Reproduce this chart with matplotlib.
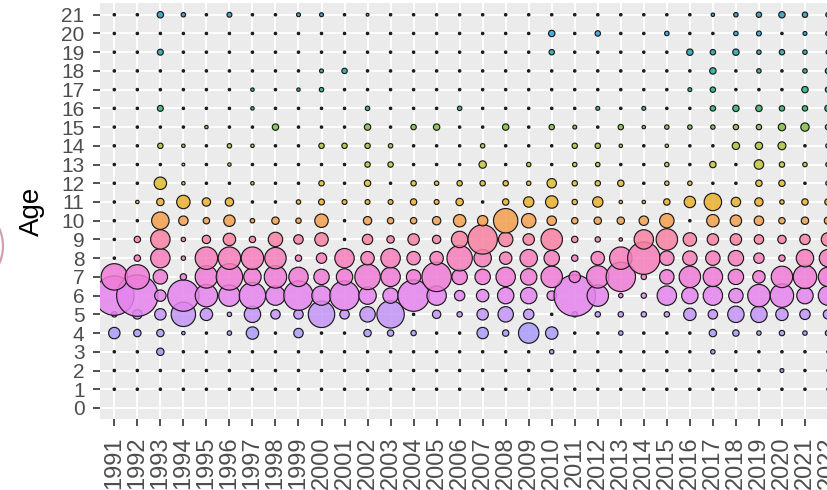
"""
Bubble chart: catch proportion at age by year
"""

import numpy as np
import matplotlib
matplotlib.use("Agg")
import matplotlib.pyplot as plt
from matplotlib.patches import Circle
from matplotlib.colors import to_rgba

plt.rcParams["font.family"] = ["Liberation Sans", "DejaVu Sans"]

years = list(range(1991, 2023))
ages = list(range(0, 22))

# proportion at age (%), one list per age, 1991 -> 2022
age_1 = [0, 0, 0, 0, 0, 0, 0, 0, 0, 0, 0, 0, 0, 0, 0, 0,
         0, 0, 0, 0, 0, 0, 0, 0, 0, 0, 0, 0, 0, 0, 0, 0]
age_2 = [0, 0, 0, 0, 0, 0, 0, 0, 0, 0, 0, 0, 0, 0, 0, 0,
         0, 0, 0, 0, 0, 0, 0, 0, 0, 0, 0, 0, 0, 0.13, 0, 0]
age_3 = [0, 0, 1.4, 0, 0, 0, 0, 0, 0, 0, 0, 0, 0, 0, 0, 0,
         0, 0, 0, 0.23, 0, 0, 0, 0, 0, 0, 0.23, 0, 0, 0, 0, 0]
age_4 = [4.6, 1.4, 1.4, 0.06, 0, 0.23, 5.7, 0, 2.8, 0, 0, 1.4, 0.9, 0.5, 0, 0,
         4.6, 0.9, 18.4, 5.7, 0, 0, 0.23, 0, 0, 0, 1.4, 0.9, 0.23, 0.5, 0.23, 0.5]
age_5 = [0.5, 2.8, 4.6, 27.4, 5.7, 0.23, 11.1, 2.8, 2.8, 32.7, 2.8, 9.6, 35.4, 0, 2.0, 0.5,
         4.6, 9.6, 3.6, 0, 0.5, 0.5, 0.5, 0.5, 0.5, 5.7, 2.8, 11.1, 11.1, 5.7, 3.6, 2.8]
age_6 = [77.6, 86.2, 4.6, 47.7, 22.7, 20.5, 32.7, 16.4, 41.3, 16.4, 41.3, 12.8, 9.6, 47.7, 16.4, 3.6,
         5.7, 11.1, 11.1, 2.8, 86.2, 20.5, 0.23, 0.5, 16.4, 11.1, 16.4, 8.2, 22.7, 25, 11.1, 16.4]
age_7 = [32.7, 27.4, 8.2, 0.9, 22.7, 32.7, 12.8, 22.7, 16.4, 9.6, 11.1, 30, 16.4, 8.2, 41.3, 9.6,
         9.6, 16.4, 11.1, 20.5, 4.6, 22.7, 41.3, 0.5, 8.2, 20.5, 16.4, 9.6, 5.7, 20.5, 25, 16.4]
age_8 = [0, 0.9, 16.4, 0.23, 22.7, 22.7, 22.7, 20.5, 0.9, 3.6, 16.4, 6.9, 16.4, 6.9, 6.9, 30,
         12.8, 5.7, 12.8, 9.6, 0.9, 6.9, 22.7, 51, 8.2, 8.2, 8.2, 9.6, 3.6, 0.9, 12.8, 12.8]
age_9 = [0, 0.9, 16.4, 0.23, 2.0, 5.7, 0.9, 8.2, 2.8, 6.9, 0, 3.6, 1.4, 4.6, 2.0, 11.1,
         41.3, 8.2, 4.6, 20.5, 0.9, 0.5, 0.06, 16.4, 20.5, 6.9, 4.6, 4.6, 2.8, 2.0, 3.6, 6.9]
age_10 = [0, 0, 12.8, 2.8, 0.9, 4.6, 0.23, 1.4, 0.5, 6.9, 0, 2.0, 0.9, 0.9, 2.0, 5.7,
          3.6, 27.4, 8.2, 2.8, 0.9, 1.4, 1.4, 2.8, 8.2, 0, 5.7, 4.6, 2.8, 0.9, 1.4, 1.4]
age_11 = [0, 0.06, 1.4, 6.9, 2.0, 2.0, 0, 0, 0.23, 0.7, 0.35, 0.35, 0.35, 0.9, 0.35, 1.4,
          0, 0.9, 3.6, 5.7, 0.5, 3.6, 0.06, 0.06, 0.9, 4.6, 12.8, 2.8, 2.0, 0.23, 0.9, 0.9]
age_12 = [0, 0, 5.7, 0.06, 0, 0, 0.06, 0, 0, 0.5, 0, 0.9, 0, 0.5, 0.23, 0.5,
          0.5, 0.5, 0.23, 2.8, 0.5, 0.5, 0.9, 0, 0.23, 0.23, 0, 0, 0.9, 0.9, 0, 0.23]
age_13 = [0, 0, 0, 0.01, 0, 0.06, 0, 0, 0, 0, 0, 0.5, 0.5, 0, 0, 0,
          1.4, 0, 0.23, 0, 0.23, 0.23, 0, 0, 0.23, 0, 0.9, 0, 2.8, 0.5, 0.23, 0.23]
age_14 = [0, 0, 0.5, 0.06, 0, 0.23, 0.06, 0, 0, 0.5, 0.5, 0.5, 0.23, 0, 0, 0,
          0.23, 0, 0, 0, 0.5, 0.5, 0.06, 0, 0.06, 0, 0, 1.4, 1.4, 1.7, 0, 0.23]
age_15 = [0, 0, 0, 0, 0.06, 0, 0, 0.9, 0, 0, 0, 0.9, 0, 0.5, 0.9, 0,
          0, 0.9, 0, 0.5, 0.13, 0, 0.5, 0.06, 0.23, 0.23, 0.23, 0.5, 0.5, 1.4, 2.0, 0.5]
age_16 = [0, 0, 0.7, 0, 0, 0, 0.06, 0, 0, 0, 0, 0.23, 0, 0, 0, 0.23,
          0, 0, 0, 0, 0, 0.13, 0, 0.13, 0, 0, 0.5, 0.9, 0.9, 0.5, 0.5, 0.9]
age_17 = [0, 0, 0, 0, 0, 0, 0.06, 0, 0.06, 0.23, 0, 0, 0, 0, 0, 0,
          0, 0, 0, 0, 0, 0, 0, 0, 0, 0.13, 0.5, 0, 0, 0, 0.9, 0.5]
age_18 = [0, 0, 0, 0, 0, 0, 0, 0, 0, 0.13, 0.5, 0, 0, 0, 0, 0,
          0, 0, 0, 0, 0, 0, 0, 0, 0, 0, 0.9, 0, 0.23, 0, 0.23, 0.5]
age_19 = [0, 0, 0.7, 0, 0, 0, 0, 0, 0, 0, 0, 0, 0, 0, 0, 0,
          0, 0, 0, 0.5, 0, 0, 0, 0, 0, 0.9, 0.5, 0.9, 0.23, 0.5, 0.23, 0.13]
age_20 = [0, 0, 0, 0, 0, 0, 0, 0, 0, 0, 0, 0, 0, 0, 0, 0,
          0, 0, 0, 0.9, 0, 0.5, 0, 0, 0.23, 0, 0, 0.23, 0.35, 0, 0.13, 0.23]
age_21 = [0, 0, 0.9, 0.23, 0, 0.35, 0, 0, 0.13, 0.13, 0, 0.01, 0, 0, 0, 0,
          0, 0, 0, 0, 0, 0, 0, 0, 0, 0, 0.06, 0.23, 0.5, 0.9, 0.5, 0.23]

age_rows = [age_1, age_2, age_3, age_4, age_5, age_6, age_7, age_8, age_9, age_10, age_11,
            age_12, age_13, age_14, age_15, age_16, age_17, age_18, age_19, age_20, age_21]

age_colors = ["#8a8cf5", "#958cf8", "#9e92f7", "#a89cf9", "#c394f6", "#e484ee", "#ef7bd6",
              "#f57dbb", "#f780a2", "#f39f4c", "#eab02e", "#dcbc30", "#c2c436", "#a6c43c",
              "#7cbe40", "#2fb16e", "#20ae8c", "#1eaa9c", "#20a3ae", "#27a0d8", "#2995c0"]

W, H, DPI = 828, 490, 100
fig = plt.figure(figsize=(W / DPI, H / DPI), dpi=DPI)

# panel in pixels: left 100.5, right 841.8 (runs off the canvas), top 3.5, bottom 419.2
left, right, top, bottom = 100.5, 841.8, 3.5, 419.2
ax = fig.add_axes([left / W, 1 - bottom / H, (right - left) / W, (bottom - top) / H])
ax.set_facecolor("#ebebeb")
ax.set_xlim(-0.6, len(years) - 0.4)
ax.set_ylim(-0.6, 21.6)
ax.grid(True, color="white", linewidth=1.3)
ax.set_axisbelow(True)
for s in ax.spines.values():
    s.set_visible(False)

lw = 0.85
edge = "#1a1a1a"
for i, row in enumerate(age_rows):
    age = i + 1
    v = np.array(row, dtype=float)
    d_px = 3.6 + 4.2 * np.sqrt(v)
    d_pt = d_px * 72 / DPI
    sizes = np.maximum(d_pt - lw, 1.0) ** 2
    # empty cells show only the outline stroke, i.e. a black dot
    faces = [to_rgba(edge) if x == 0 else to_rgba(age_colors[i], 0.85) for x in v]
    ax.scatter(np.arange(len(years)), np.full(len(years), age), s=sizes,
               facecolors=faces, edgecolors=edge, linewidths=lw, zorder=3)

ax.set_xticks(range(len(years)))
ax.set_xticklabels([str(y) for y in years], rotation=90, fontsize=17, color="#4d4d4d")
ax.set_yticks(ages)
ax.set_yticklabels([str(a) for a in ages], fontsize=15, color="#4d4d4d")
ax.tick_params(axis="both", length=5, width=1.2, color="#333333")
ax.tick_params(axis="x", pad=7.5)
ax.tick_params(axis="y", pad=6.5)

fig.text(32 / W, 1 - 211 / H, "Age", rotation=90, ha="center", va="center",
         fontsize=20, color="black")

# edge of a neighbouring element peeking in at the left border
fig.add_artist(Circle((-40, 244), 43, transform=None, fill=False,
                      edgecolor="#9b3050", linewidth=1.6, alpha=0.45))

fig.savefig("out.png", dpi=DPI)
